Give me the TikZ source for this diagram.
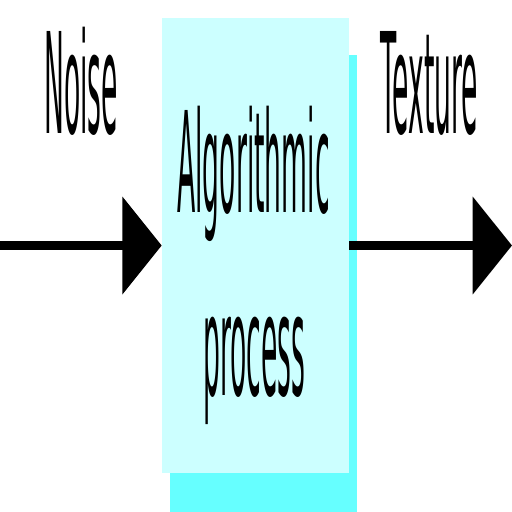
\documentclass[tikz,border=0pt]{standalone}
\usepackage{fontspec}
\setmainfont{DejaVu Sans}
\usetikzlibrary{arrows.meta}

\definecolor{boxfill}{RGB}{204,255,255}
\definecolor{shadowfill}{RGB}{102,255,255}
\newcommand{\narrow}[1]{\scalebox{0.19}[1]{#1}}

\tikzset{every picture/.style={line width=0.45pt}}

\begin{document}
\begin{tikzpicture}[x=0.75pt,y=0.75pt,yscale=-1,xscale=1,
  lbl/.style={anchor=base, inner sep=0pt, font=\fontsize{105}{126}\selectfont},
  procbox/.style={fill=boxfill, draw=none, inner sep=0pt, minimum width=140.25pt, minimum height=341.25pt},
  flow/.style={line width=7pt, -{Triangle[length=29.5pt, width=72pt]}}]
\useasboundingbox (0,0) rectangle (512,512);

%Shadow of the box
\fill [shadowfill] (170,55) rectangle (357,512);
%Box
\node [procbox] (proc) at (255.5,245.5) {};

% Text Node
\node [lbl] (noise) at (81,133) {\narrow{Noise}};
% Text Node
\node [lbl] (texture) at (429.5,133) {\narrow{Texture}};
% Text Node
\node [lbl] (algo) at (253.5,212) {\narrow{Algorithmic}};
% Text Node
\node [lbl] (procword) at (254.5,395) {\narrow{process}};

%Arrows
\coordinate (src) at (0,245.5);
\coordinate (dst) at (512,245.5);
\draw [flow] (src) -- (proc.west);
\draw [flow] (proc.east) -- (dst);

\end{tikzpicture}
\end{document}
